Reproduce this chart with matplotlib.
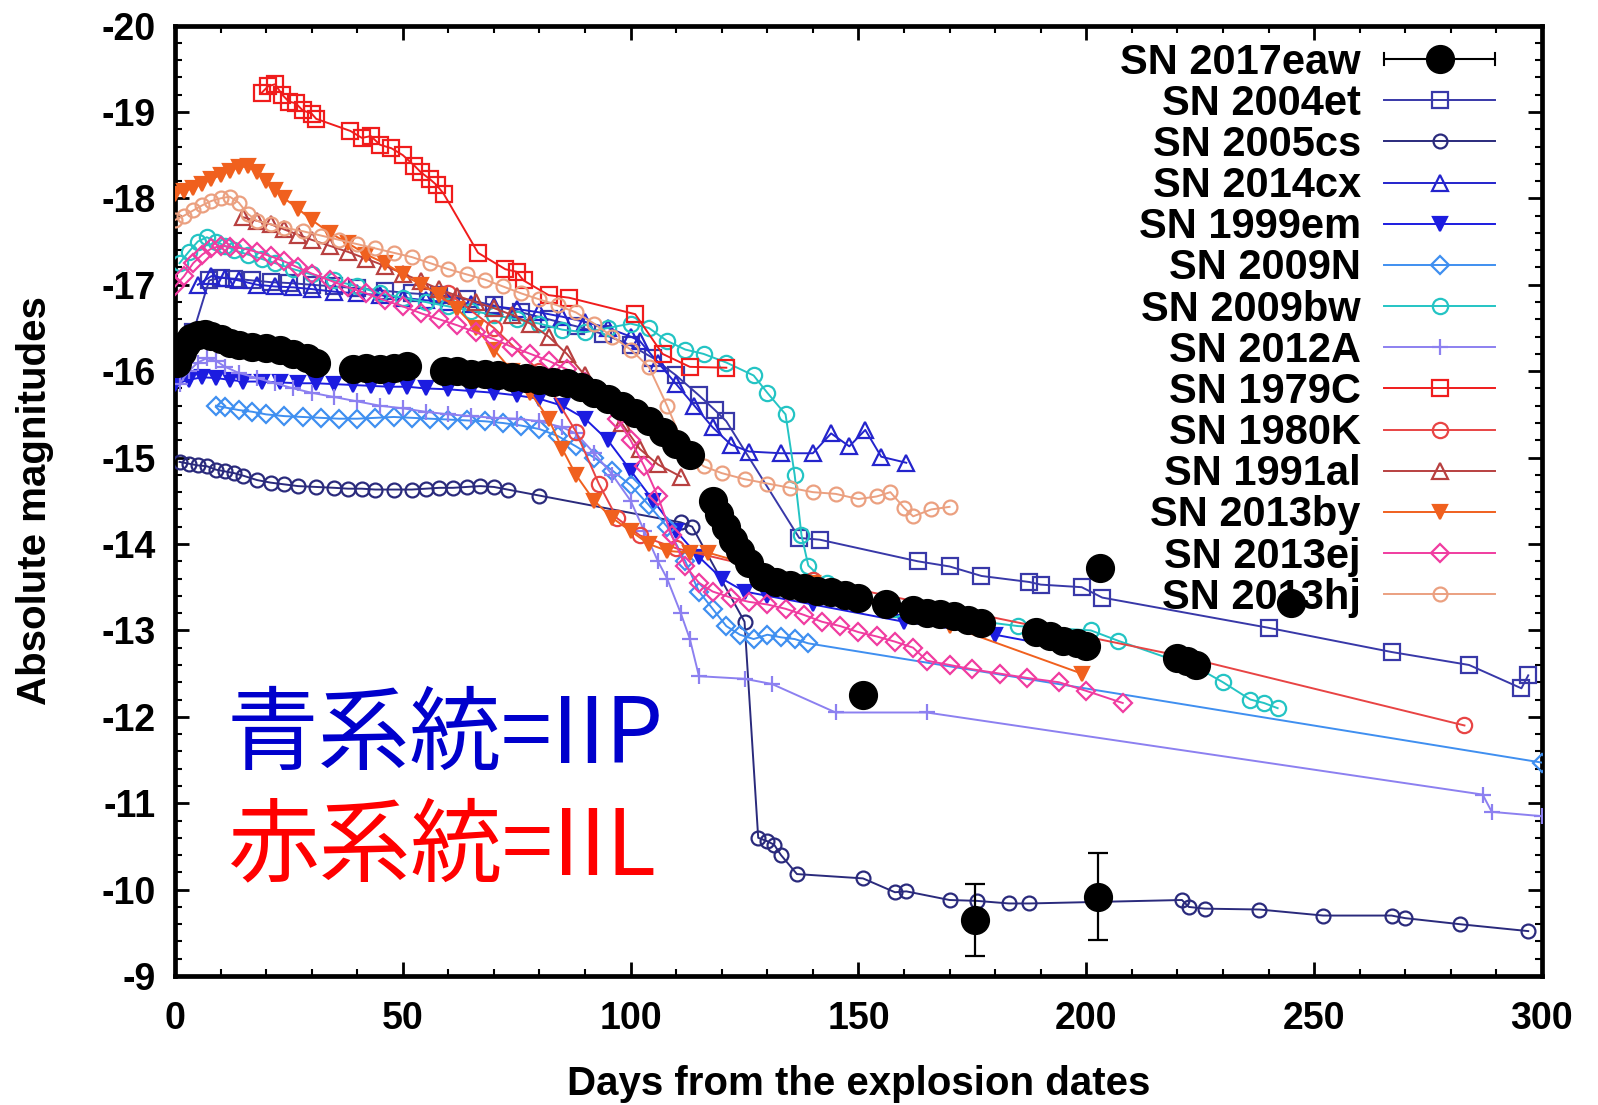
import matplotlib
matplotlib.use('Agg')
import matplotlib.pyplot as plt
from matplotlib.lines import Line2D
from matplotlib.legend_handler import HandlerBase
from matplotlib.ticker import MultipleLocator

plt.rcParams['font.family'] = ['Liberation Sans', 'DejaVu Sans']
plt.rcParams['font.weight'] = 'bold'
plt.rcParams['axes.unicode_minus'] = False

# ---------------- data (days, absolute magnitude) ----------------
d_2017eaw = [0.5, 1.5, 2.5, 3.5, 5, 6.5, 8, 10, 12, 14, 17, 20, 23, 26, 29, 31,
             39, 42, 45, 48, 51,
             59, 62, 65, 68, 71, 74, 77, 80, 83, 86, 89, 92, 95, 98, 101, 104, 107, 110, 113,
             118, 119.5, 121, 122.5, 124, 126, 129, 132, 135, 138, 141, 144, 147, 150,
             156, 162, 165, 168, 171, 174, 177, 189, 192, 195, 198, 200, 220, 222, 224,
             151, 203, 245, 175.5, 202.5]
m_2017eaw = [-16.10, -16.22, -16.32, -16.38, -16.42, -16.43, -16.41, -16.37, -16.33, -16.30,
             -16.28, -16.27, -16.24, -16.20, -16.15, -16.10,
             -16.03, -16.04, -16.02, -16.04, -16.06,
             -16.00, -16.00, -15.97, -15.97, -15.95, -15.93, -15.92, -15.90, -15.88, -15.86,
             -15.82, -15.75, -15.68, -15.60, -15.52, -15.42, -15.30, -15.16, -15.03,
             -14.50, -14.35, -14.20, -14.05, -13.92, -13.78, -13.62, -13.56, -13.52, -13.49,
             -13.46, -13.44, -13.41, -13.38,
             -13.30, -13.24, -13.20, -13.19, -13.17, -13.12, -13.08, -12.98, -12.93, -12.88,
             -12.85, -12.82, -12.68, -12.65, -12.60,
             -12.25, -13.72, -13.32, -9.65, -9.92]
e_2017eaw = [0.0] * (len(m_2017eaw) - 2) + [0.42, 0.50]

d_2004et = [4, 7.5, 10, 13, 17, 21, 25, 30, 35, 40, 46, 52, 58, 64, 70, 76, 82, 88, 94, 100,
            105, 110, 115, 118.5, 121, 137, 141.5, 163, 170, 177, 187.5, 190, 199, 203.5,
            240, 267, 284, 295.5, 297]
m_2004et = [-16.45, -17.05, -17.08, -17.07, -17.05, -17.03, -17.02, -17.00, -16.98, -16.96,
            -16.93, -16.90, -16.88, -16.83, -16.76, -16.68, -16.60, -16.52, -16.43, -16.30,
            -16.15, -15.95, -15.72, -15.55, -15.42, -14.07, -14.05, -13.80, -13.74, -13.63,
            -13.56, -13.53, -13.50, -13.38, -13.03, -12.75, -12.60, -12.33, -12.48]

d_2005cs = [1, 3, 5, 7, 9, 11, 13, 15, 18, 21, 24, 27, 31, 35, 38, 41, 44, 48, 52, 55, 58,
            61, 64, 67, 70, 73, 80, 111, 113.5, 125, 128, 130, 131.5, 133, 136.5, 151, 158,
            160.5, 170, 176, 183, 187.5, 221, 222.5, 226, 238, 252, 267, 270, 282, 297]
m_2005cs = [-14.95, -14.93, -14.91, -14.90, -14.86, -14.84, -14.82, -14.79, -14.74, -14.71,
            -14.69, -14.67, -14.66, -14.65, -14.64, -14.64, -14.63, -14.63, -14.63, -14.64,
            -14.65, -14.65, -14.66, -14.67, -14.66, -14.63, -14.56, -14.25, -14.20, -13.10,
            -10.60, -10.56, -10.52, -10.40, -10.18, -10.13, -9.97, -9.98, -9.88, -9.87,
            -9.84, -9.84, -9.88, -9.80, -9.78, -9.77, -9.70, -9.70, -9.67, -9.60, -9.52]

d_2014cx = [5, 8, 11, 14, 18, 22, 26, 30, 35, 40, 45, 50, 55, 60, 65, 70, 75, 80, 85, 90,
            95, 100, 102, 106, 110, 114, 118, 122, 126, 133, 140, 144, 148, 151.5, 155, 160.5]
m_2014cx = [-17.00, -17.10, -17.08, -17.05, -17.00, -16.98, -16.97, -16.95, -16.92, -16.90,
            -16.88, -16.85, -16.82, -16.80, -16.78, -16.75, -16.72, -16.68, -16.63, -16.57,
            -16.50, -16.40, -16.35, -16.10, -15.85, -15.60, -15.35, -15.15, -15.07, -15.05,
            -15.05, -15.28, -15.13, -15.32, -15.01, -14.94]

d_1999em = [0, 3, 6, 9, 12, 15, 19, 23, 27, 31, 35, 39, 43, 47, 51, 55, 60, 65, 70, 75, 80,
            85, 90, 95, 100, 105, 110, 115, 120, 125, 130, 140, 160, 180, 200]
m_1999em = [-15.85, -15.90, -15.93, -15.92, -15.90, -15.88, -15.88, -15.87, -15.86, -15.86,
            -15.85, -15.84, -15.83, -15.82, -15.82, -15.80, -15.79, -15.77, -15.75, -15.72,
            -15.68, -15.60, -15.45, -15.20, -14.85, -14.50, -14.15, -13.85, -13.60, -13.45,
            -13.40, -13.30, -13.10, -12.95, -12.75]

d_2009N = [9, 11, 14, 17, 20, 24, 28, 32, 36, 40, 44, 48, 52, 56, 60, 64, 68, 72, 76, 80,
           84, 88, 92, 96, 100, 104, 108, 112, 115, 118, 121, 124, 127, 130, 133, 136, 139, 300]
m_2009N = [-15.60, -15.58, -15.55, -15.53, -15.50, -15.48, -15.47, -15.46, -15.45, -15.45,
           -15.46, -15.47, -15.46, -15.45, -15.44, -15.43, -15.42, -15.40, -15.37, -15.33,
           -15.25, -15.13, -15.00, -14.85, -14.68, -14.45, -14.20, -13.80, -13.45, -13.25,
           -13.05, -12.95, -12.90, -12.95, -12.92, -12.90, -12.85, -11.47]

d_2009bw = [1, 3, 5, 7, 9, 11, 13, 16, 19, 22, 26, 30, 35, 40, 45, 50, 55, 60, 65, 70, 75,
            80, 85, 90, 95, 100, 104, 108, 112, 116, 121, 127, 130, 134, 136, 137.5, 139, 143,
            150, 158, 170, 185, 201, 207, 225, 230, 236, 239, 242]
m_2009bw = [-17.25, -17.38, -17.50, -17.55, -17.50, -17.45, -17.40, -17.35, -17.30, -17.25,
            -17.18, -17.12, -17.05, -16.98, -16.90, -16.85, -16.80, -16.75, -16.70, -16.65,
            -16.60, -16.55, -16.48, -16.45, -16.50, -16.55, -16.50, -16.35, -16.25, -16.20,
            -16.10, -15.95, -15.75, -15.50, -14.80, -14.10, -13.75, -13.55, -13.40, -13.25,
            -13.15, -13.05, -13.00, -12.88, -12.55, -12.40, -12.20, -12.16, -12.10]

d_2012A = [1, 3, 5, 7, 9, 11, 14, 18, 22, 26, 30, 35, 40, 45, 50, 55, 60, 65, 70, 75, 80,
           85, 88, 92, 96, 100, 103, 106, 108, 111, 113, 115, 125, 131, 145, 165, 287, 289, 300]
m_2012A = [-15.85, -16.00, -16.10, -16.15, -16.12, -16.05, -15.98, -15.92, -15.86, -15.80,
           -15.75, -15.70, -15.65, -15.60, -15.57, -15.53, -15.50, -15.48, -15.46, -15.45,
           -15.42, -15.35, -15.28, -15.05, -14.80, -14.50, -14.15, -13.80, -13.60, -13.20,
           -12.90, -12.47, -12.44, -12.38, -12.05, -12.05, -11.10, -10.90, -10.85]

d_1979C = [19, 20.5, 22, 23.5, 25, 26.5, 28, 30, 31, 38.5, 41, 43, 45, 47.5, 50, 52.5, 54,
           56, 57.5, 59, 66.5, 72.5, 75, 76.5, 82, 86.5, 101, 107, 113, 121]
m_1979C = [-19.22, -19.30, -19.32, -19.20, -19.12, -19.10, -19.02, -18.98, -18.92, -18.78,
           -18.70, -18.72, -18.62, -18.58, -18.50, -18.38, -18.30, -18.22, -18.15, -18.05,
           -17.37, -17.18, -17.15, -17.05, -16.88, -16.85, -16.66, -16.20, -16.05, -16.04]

d_1980K = [60, 70, 80, 88, 93, 97, 102, 110, 140, 221, 283]
m_1980K = [-16.90, -16.50, -16.00, -15.30, -14.70, -14.30, -14.10, -13.95, -13.58, -12.70, -11.90]

d_1991al = [15, 18, 21, 24, 27, 30, 34, 38, 42, 46, 50, 54, 58, 62, 66, 70, 74, 78, 82, 86,
            90, 94, 98, 102, 106, 111]
m_1991al = [-17.78, -17.74, -17.70, -17.64, -17.58, -17.52, -17.45, -17.38, -17.30, -17.22,
            -17.13, -17.04, -16.95, -16.87, -16.80, -16.73, -16.65, -16.55, -16.40, -16.20,
            -15.95, -15.70, -15.40, -15.10, -14.92, -14.78]

d_2013by = [0, 2, 4, 6, 8, 10, 12, 14, 16, 18, 20, 22, 24, 27, 30, 34, 38, 42, 46, 50, 54,
            58, 62, 66, 70, 74, 78, 82, 85, 88, 92, 96, 100, 104, 108, 113, 117, 140, 170, 199]
m_2013by = [-18.05, -18.08, -18.12, -18.17, -18.22, -18.27, -18.32, -18.36, -18.37, -18.30,
            -18.20, -18.10, -18.00, -17.88, -17.75, -17.60, -17.48, -17.35, -17.25, -17.12,
            -17.00, -16.88, -16.72, -16.50, -16.25, -16.00, -15.75, -15.45, -15.10, -14.80,
            -14.50, -14.30, -14.15, -14.00, -13.92, -13.90, -13.90, -13.55, -13.05, -12.50]

d_2013ej = [0, 2, 4, 6, 8, 10, 12, 15, 18, 21, 24, 27, 30, 34, 38, 42, 46, 50, 54, 58, 62,
            66, 70, 74, 78, 82, 86, 90, 94, 97, 100, 103, 106, 109, 112, 115, 118, 122, 126,
            130, 134, 138, 142, 146, 150, 154, 158, 162, 165, 170, 175, 181, 187, 194, 200, 208]
m_2013ej = [-16.98, -17.10, -17.25, -17.35, -17.42, -17.45, -17.44, -17.42, -17.38, -17.33,
            -17.27, -17.20, -17.13, -17.05, -16.97, -16.90, -16.82, -16.75, -16.67, -16.60,
            -16.53, -16.45, -16.37, -16.28, -16.20, -16.12, -16.02, -15.88, -15.70, -15.45,
            -15.20, -14.90, -14.55, -14.10, -13.75, -13.55, -13.45, -13.38, -13.33, -13.30,
            -13.25, -13.18, -13.10, -13.05, -12.98, -12.93, -12.87, -12.80, -12.65, -12.60,
            -12.55, -12.50, -12.45, -12.40, -12.30, -12.16]

d_2013hj = [0, 2, 4, 6, 8, 10, 12, 14, 16, 18, 21, 24, 28, 32, 36, 40, 44, 48, 52, 56, 60,
            64, 68, 72, 76, 80, 84, 88, 92, 96, 100, 104, 108, 112, 116, 120, 125, 130, 135,
            140, 145, 150, 154, 157, 160, 162, 166, 170]
m_2013hj = [-17.75, -17.80, -17.86, -17.92, -17.97, -18.00, -18.02, -17.95, -17.82, -17.74,
            -17.70, -17.66, -17.62, -17.57, -17.52, -17.47, -17.42, -17.37, -17.32, -17.25,
            -17.18, -17.12, -17.06, -16.98, -16.90, -16.83, -16.76, -16.68, -16.55, -16.40,
            -16.25, -16.05, -15.60, -15.10, -14.90, -14.82, -14.75, -14.70, -14.65, -14.60,
            -14.58, -14.52, -14.55, -14.60, -14.42, -14.32, -14.40, -14.43]

names = ['SN 2004et', 'SN 2005cs', 'SN 2014cx', 'SN 1999em', 'SN 2009N', 'SN 2009bw',
         'SN 2012A', 'SN 1979C', 'SN 1980K', 'SN 1991al', 'SN 2013by', 'SN 2013ej', 'SN 2013hj']
days = [d_2004et, d_2005cs, d_2014cx, d_1999em, d_2009N, d_2009bw, d_2012A, d_1979C,
        d_1980K, d_1991al, d_2013by, d_2013ej, d_2013hj]
mags = [m_2004et, m_2005cs, m_2014cx, m_1999em, m_2009N, m_2009bw, m_2012A, m_1979C,
        m_1980K, m_1991al, m_2013by, m_2013ej, m_2013hj]

x_ticks = [0, 50, 100, 150, 200, 250, 300]
y_ticks = [-20, -19, -18, -17, -16, -15, -14, -13, -12, -11, -10, -9]

# ---------------- styles ----------------
colors = ['#3838a8', '#2a2a7c', '#2424cc', '#1c1ce0', '#3f8ff0', '#24c4c4',
          '#8c80f0', '#f01c1c', '#e84444', '#b84040', '#f0601e', '#f03ca0', '#eba080']
markers = ['s', 'o', '^', 'v', 'D', 'o', '+', 's', 'o', '^', 'v', 'D', 'o']
filled = [False, False, False, True, False, False, True, False, False, False, True, False, False]
msizes = [11, 10, 11, 10, 9, 11, 12, 12, 11, 11, 10, 9, 10]

fig = plt.figure(figsize=(15.98, 11.05), dpi=100)
ax = fig.add_axes([0.1095, 0.1167, 0.8554, 0.8602])

handles = []
for nm, dd, mm, c, mk, fl, ms in zip(names, days, mags, colors, markers, filled, msizes):
    ln, = ax.plot(dd, mm, color=c, lw=1.4, marker=mk, ms=ms,
                  mfc=(c if fl else 'none'), mec=c, mew=1.6, label=nm, zorder=3)
    handles.append(ln)

eb = ax.errorbar(d_2017eaw, m_2017eaw, yerr=e_2017eaw, fmt='o', color='black', ms=20,
                 ecolor='black', elinewidth=1.6, capsize=7, capthick=1.6, zorder=10,
                 label='SN 2017eaw')


class HandlerEaw(HandlerBase):
    def create_artists(self, legend, orig_handle, xdescent, ydescent, width, height,
                       fontsize, trans):
        x0 = -xdescent
        x1 = x0 + width
        yc = -ydescent + height / 2
        cap = height * 0.2
        arts = [Line2D([x0, x1], [yc, yc], color='black', lw=1.5),
                Line2D([x0, x0], [yc - cap, yc + cap], color='black', lw=1.5),
                Line2D([x1, x1], [yc - cap, yc + cap], color='black', lw=1.5),
                Line2D([(x0 + x1) / 2], [yc], marker='o', ms=20, color='black', ls='none')]
        for a in arts:
            a.set_transform(trans)
        return arts


leg = ax.legend([eb] + handles, ['SN 2017eaw'] + names, loc='upper right',
                bbox_to_anchor=(0.966, 0.982), frameon=False, markerfirst=False,
                prop=dict(family='Liberation Sans', weight='bold', size=30),
                handlelength=2.68, handletextpad=0.55, labelspacing=0.028,
                borderpad=0, borderaxespad=0, numpoints=1,
                handler_map={eb: HandlerEaw()})
leg.set_zorder(2)

ax.set_xlim(0, 300)
ax.set_ylim(-9, -20)
ax.set_xticks(x_ticks)
ax.set_xticklabels([str(v) for v in x_ticks])
ax.set_yticks(y_ticks)
ax.set_yticklabels([str(v) for v in y_ticks])
ax.xaxis.set_minor_locator(MultipleLocator(10))
ax.yaxis.set_minor_locator(MultipleLocator(0.2))
ax.tick_params(which='both', direction='in', top=True, right=True, colors='black')
ax.tick_params(which='major', length=10, width=2, labelsize=27)
ax.tick_params(which='minor', length=5, width=1.5)
ax.tick_params(axis='x', which='major', pad=18)
ax.tick_params(axis='y', which='major', pad=14)
for sp in ax.spines.values():
    sp.set_linewidth(3.4)

ax.set_xlabel('Days from the explosion dates', fontsize=29, fontweight='bold', labelpad=20)
ax.set_ylabel('Absolute magnitudes', fontsize=29, fontweight='bold', labelpad=34)

jp = ['Noto Sans CJK JP', 'DejaVu Sans']
fig.text(0.142, 0.333, '青系統=IIP', color='#0000cc', fontsize=66, family=jp,
         fontweight='normal', va='center', ha='left')
fig.text(0.142, 0.232, '赤系統=IIL', color='#ff0000', fontsize=66, family=jp,
         fontweight='normal', va='center', ha='left')

fig.savefig('out.png', dpi=100)
